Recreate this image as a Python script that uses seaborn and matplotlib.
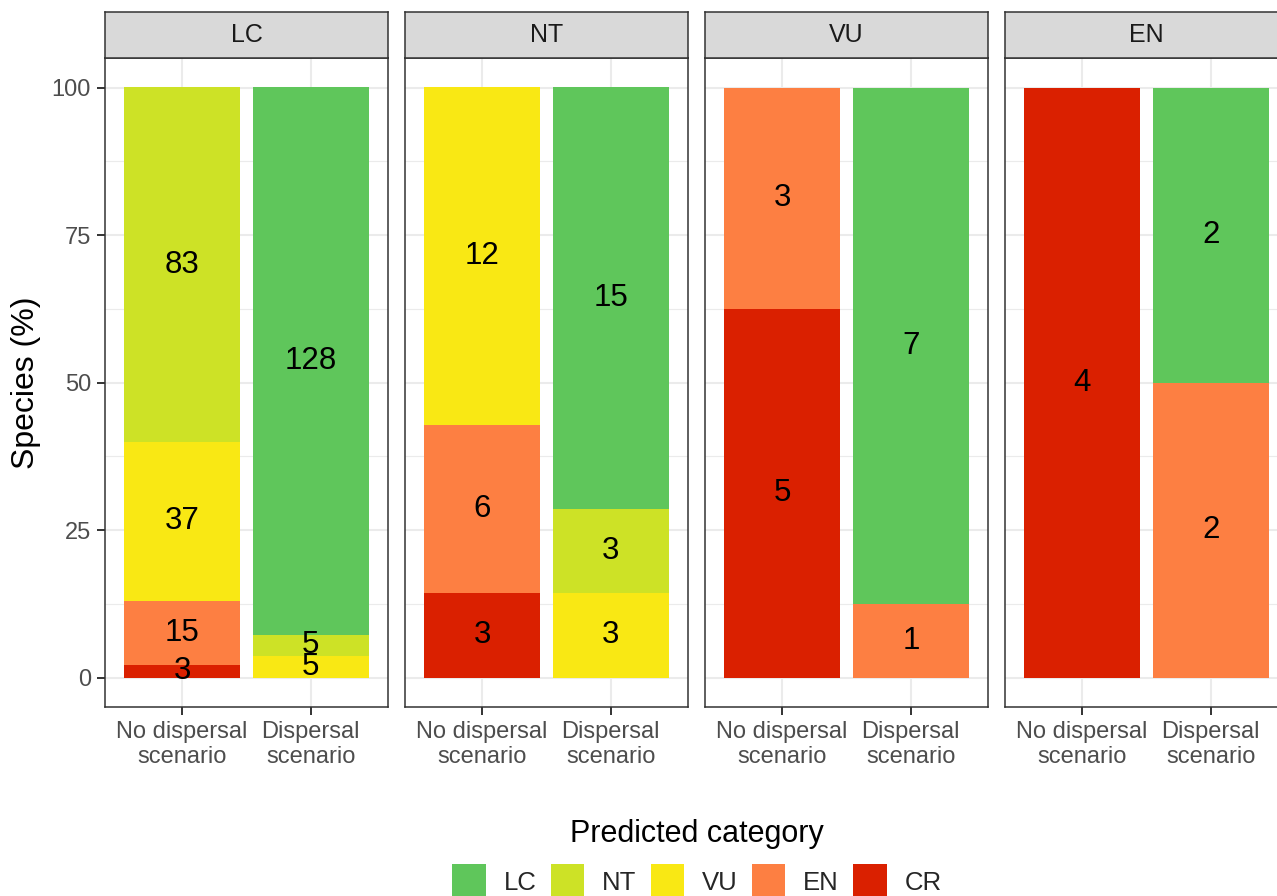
import matplotlib
matplotlib.use("Agg")
import matplotlib.pyplot as plt
from matplotlib.patches import Patch
from matplotlib.ticker import MultipleLocator
import numpy as np
import pandas as pd
import seaborn as sns

# Current category panels and scenarios
panels = ["LC", "NT", "VU", "EN"]
scenarios = ["No dispersal\nscenario", "Dispersal\nscenario"]

# Predicted categories (top of stack first) and their colours
categories = ["LC", "NT", "VU", "EN", "CR"]
colors = ["#5FC65B", "#CDE226", "#F9E814", "#FD7F42", "#DA2000"]

# Species counts per predicted category: [no dispersal, dispersal]
counts_LC = {"LC": [0, 128], "NT": [83, 5], "VU": [37, 5], "EN": [15, 0], "CR": [3, 0]}
counts_NT = {"LC": [0, 15], "NT": [0, 3], "VU": [12, 3], "EN": [6, 0], "CR": [3, 0]}
counts_VU = {"LC": [0, 7], "NT": [0, 0], "VU": [0, 0], "EN": [3, 1], "CR": [5, 0]}
counts_EN = {"LC": [0, 2], "NT": [0, 0], "VU": [0, 0], "EN": [0, 2], "CR": [4, 0]}
panel_counts = [counts_LC, counts_NT, counts_VU, counts_EN]

rows = []
for panel, counts in zip(panels, panel_counts):
    for s_idx in range(len(scenarios)):
        total = sum(counts[c][s_idx] for c in categories)
        for cat in categories:
            n = counts[cat][s_idx]
            if n > 0:
                rows.append({"panel": panel, "pos": s_idx, "category": cat,
                             "n": n, "pct": 100.0 * n / total})
df = pd.DataFrame(rows)

sns.set_theme(style="white")
plt.rcParams["font.family"] = ["Liberation Sans", "DejaVu Sans"]

W, H = 1277, 896
fig = plt.figure(figsize=(W / 100, H / 100), dpi=100)

grey20 = "#333333"
grey30 = "#4D4D4D"
grid_col = "#EBEBEB"

panel_left0, panel_w, panel_step = 105, 283, 300
panel_top, panel_bot = 58, 707
strip_top = 12

for i, panel in enumerate(panels):
    left = panel_left0 + i * panel_step
    ax = fig.add_axes([left / W, 1 - panel_bot / H, panel_w / W, (panel_bot - panel_top) / H])
    sub = df[df["panel"] == panel]
    sns.histplot(data=sub, x="pos", weights="pct", hue="category",
                 hue_order=categories, palette=colors, multiple="stack",
                 discrete=True, shrink=0.9, linewidth=0, alpha=1,
                 legend=False, ax=ax, zorder=2)

    # Count labels at the centre of each stacked segment
    for s_idx in range(len(scenarios)):
        base = 0.0
        seg = sub[sub["pos"] == s_idx].set_index("category")
        for cat in categories[::-1]:
            if cat in seg.index:
                pct = seg.loc[cat, "pct"]
                ax.text(s_idx, base + pct / 2, f"{int(seg.loc[cat, 'n'])}",
                        ha="center", va="center", fontsize=22.5, color="black", zorder=3)
                base += pct

    ax.set_xlim(-0.6, 1.6)
    ax.set_ylim(-5, 105)
    ax.set_xticks(range(len(scenarios)))
    ax.set_xticklabels(scenarios, fontsize=17, color=grey30, linespacing=1.2)
    ax.yaxis.set_major_locator(MultipleLocator(25))
    ax.yaxis.set_minor_locator(MultipleLocator(12.5))
    ax.grid(which="major", color=grid_col, linewidth=1.5, zorder=0)
    ax.grid(which="minor", axis="y", color=grid_col, linewidth=0.8, zorder=0)
    ax.set_axisbelow(True)
    ax.tick_params(axis="both", which="major", length=6, width=1.4, color=grey20,
                   labelsize=17, labelcolor=grey30, pad=4, left=True, bottom=True)
    ax.tick_params(axis="y", which="minor", length=0)
    for sp in ax.spines.values():
        sp.set_color(grey20)
        sp.set_linewidth(1.1)
    ax.set_xlabel("")
    if i == 0:
        ax.set_ylabel("Species (%)", fontsize=23, color="black", labelpad=8)
    else:
        ax.set_ylabel("")
        ax.tick_params(axis="y", which="both", left=False, labelleft=False)

    # Facet strip
    sax = fig.add_axes([left / W, 1 - panel_top / H, panel_w / W, (panel_top - strip_top) / H])
    sax.set_facecolor("#D9D9D9")
    sax.set_xticks([])
    sax.set_yticks([])
    for sp in sax.spines.values():
        sp.set_color(grey20)
        sp.set_linewidth(1.1)
    sax.text(0.5, 0.5, panel, ha="center", va="center", fontsize=18,
             color="#1A1A1A", transform=sax.transAxes)

handles = [Patch(facecolor=c, edgecolor="none", label=l) for c, l in zip(colors, categories)]
leg = fig.legend(handles=handles, ncol=5, loc="upper center",
                 bbox_to_anchor=(697 / W, 1 - 819 / H), frameon=False,
                 title="Predicted category", title_fontsize=22, fontsize=18.5,
                 handlelength=1.3, handleheight=1.7, handletextpad=0.7,
                 columnspacing=0.55, borderpad=0, borderaxespad=0, labelspacing=0.6)
leg.get_title().set_color("black")

fig.savefig("out.png", dpi=100)
